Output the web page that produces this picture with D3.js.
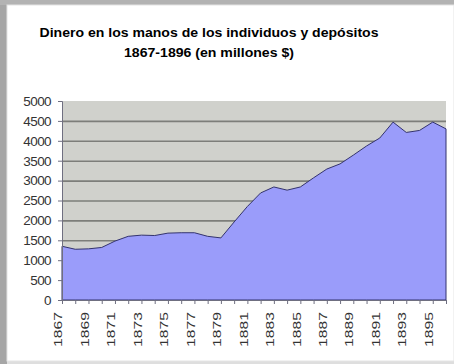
<!DOCTYPE html>
<html>
    <head>
        <meta charset="utf-8">
        <script src="https://d3js.org/d3.v7.min.js"></script>
        <title>Dinero en los manos de los individuos</title>
        <style>
            body { margin: 0; background: #ffffff; }
            text { font-family: "Liberation Sans", Arial, sans-serif; }
            .gridlines line { stroke: #7d7e7a; stroke-width: 1.6; }
            .gridlines .domain { stroke: none; }
        </style>
    </head>
    <body>
        <svg id="chart" width="454" height="364"></svg>
        <script>
            // data (millions of $)
            const years = d3.range(1867, 1897);
            const values = [1350, 1275, 1285, 1320, 1480, 1600, 1630, 1620, 1680, 1690,
                            1690, 1600, 1560, 1960, 2350, 2690, 2840, 2760, 2840, 3070,
                            3290, 3420, 3640, 3870, 4070, 4470, 4210, 4260, 4470, 4300];
            const yTicks = [0, 500, 1000, 1500, 2000, 2500, 3000, 3500, 4000, 4500, 5000];
            const xLabels = [1867, 1869, 1871, 1873, 1875, 1877, 1879, 1881,
                             1883, 1885, 1887, 1889, 1891, 1893, 1895];
            const titleLines = ["Dinero en los manos de los individuos y depósitos",
                                "1867-1896 (en millones $)"];

            const svg = d3.select("svg#chart");
            const width = +svg.attr("width");
            const height = +svg.attr("height");
            const plot = {left: 62, right: 446, top: 101, bottom: 300};

            // frame round the chart
            svg.append("rect").attr("width", width).attr("height", height).attr("fill", "#dedede");
            svg.append("rect").attr("width", 7).attr("height", height).attr("fill", "#a6a6a6");
            svg.append("rect").attr("width", width).attr("height", 5).attr("fill", "#b3b3b3");
            svg.append("rect")
               .attr("x", 7).attr("y", 5)
               .attr("width", width - 7).attr("height", 356)
               .attr("fill", "#ffffff")
               .attr("stroke", "#e4e4e4");

            // title
            const titleLen = [339, 170];
            svg.selectAll("text.title")
               .data(titleLines)
               .join("text")
               .attr("class", "title")
               .attr("x", 209)
               .attr("y", (d, i) => 37 + i * 20)
               .attr("text-anchor", "middle")
               .attr("font-size", 13)
               .attr("font-weight", "bold")
               .attr("textLength", (d, i) => titleLen[i])
               .attr("lengthAdjust", "spacingAndGlyphs")
               .text(d => d);

            const xScale = d3.scalePoint()
                             .domain(years)
                             .range([plot.left, plot.right]);
            const yScale = d3.scaleLinear()
                             .domain([0, 5000])
                             .range([plot.bottom, plot.top]);

            // plot background
            svg.append("rect")
               .attr("x", plot.left).attr("y", plot.top)
               .attr("width", plot.right - plot.left)
               .attr("height", plot.bottom - plot.top)
               .attr("fill", "#d0d1cc");

            let gridLines = d3.axisLeft(yScale)
                              .tickValues(yTicks.filter(t => t > 0 && t < 5000))
                              .tickSize(-(plot.right - plot.left))
                              .tickFormat("");
            svg.append("g")
               .attr("class", "gridlines")
               .attr("transform", `translate(${plot.left}, 0)`)
               .call(gridLines);

            // area
            const area = d3.area()
                           .x((d, i) => xScale(years[i]))
                           .y0(yScale(0))
                           .y1(d => yScale(d));
            svg.append("path")
               .datum(values)
               .attr("d", area)
               .attr("fill", "#9a9cfa")
               .attr("stroke", "#33336e")
               .attr("stroke-width", 1);

            // y axis
            let leftAxis = d3.axisLeft(yScale)
                             .tickValues(yTicks)
                             .tickSize(4)
                             .tickPadding(7)
                             .tickFormat(d3.format("d"));
            let yAxisG = svg.append("g")
                            .attr("transform", `translate(${plot.left}, 0)`)
                            .call(leftAxis);
            yAxisG.select(".domain").attr("stroke", "#6f6f80");
            yAxisG.selectAll(".tick line").attr("stroke", "#6f6f80");
            yAxisG.selectAll(".tick text")
                  .attr("font-family", "'Liberation Sans', Arial, sans-serif")
                  .attr("font-size", 13.5)
                  .attr("letter-spacing", -0.6)
                  .attr("fill", "#333333");

            // x axis: a tick for each year, a label every other year
            let bottomAxis = d3.axisBottom(xScale)
                               .tickValues(years)
                               .tickSize(4)
                               .tickFormat(d => xLabels.includes(d) ? d : "");
            let xAxisG = svg.append("g")
                            .attr("transform", `translate(0, ${plot.bottom})`)
                            .call(bottomAxis);
            xAxisG.select(".domain").attr("stroke", "#6f6f80");
            xAxisG.selectAll(".tick line").attr("stroke", "#6f6f80");
            xAxisG.selectAll(".tick text")
                  .attr("font-family", "'Liberation Sans', Arial, sans-serif")
                  .attr("font-size", 10.5)
                  .attr("fill", "#333333")
                  .attr("text-anchor", "end")
                  .attr("transform", "rotate(-90)")
                  .attr("x", -12)
                  .attr("y", -4)
                  .attr("dy", "0.35em")
                  .filter(d => xLabels.includes(d))
                  .attr("textLength", 35)
                  .attr("lengthAdjust", "spacingAndGlyphs");
        </script>
    </body>
</html>
